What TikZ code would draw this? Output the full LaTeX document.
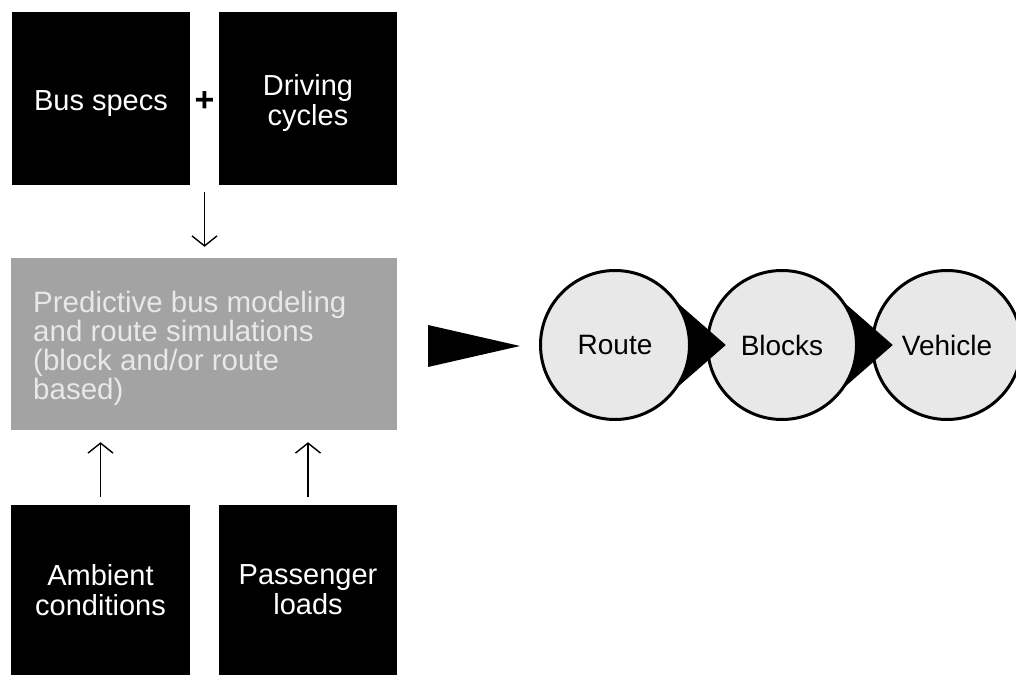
\documentclass[tikz,border=0pt]{standalone}
\usepackage{fontspec}
\setmainfont{Liberation Sans}
\usetikzlibrary{arrows.meta,calc}

\definecolor{simfill}{RGB}{163,163,163}
\definecolor{simtext}{RGB}{232,232,232}
\definecolor{discfill}{RGB}{232,232,232}

\tikzset{
  inputbox/.style={fill=black, draw=none, minimum width=178pt, inner sep=0pt},
  boxtext/.style={text=white, align=center, inner sep=0pt,
    font=\fontsize{29}{30}\selectfont},
  simbox/.style={fill=simfill, draw=none, minimum width=386pt,
    minimum height=172pt, inner sep=0pt},
  disc/.style={circle, draw=black, line width=3pt, fill=discfill,
    minimum size=149pt, inner sep=0pt, outer sep=0pt,
    font=\fontsize{28}{30}\selectfont},
  flow/.style={line width=1.4pt, -{Straight Barb[length=10pt,width=25pt,line width=1.4pt]}},
  wedge/.style={fill=black, draw=black, line width=1pt, line join=miter}
}

\begin{document}
\begin{tikzpicture}[x=1pt, y=1pt]
  \useasboundingbox (0,0) rectangle (1016,675);

  % inputs above the simulation step
  \node[inputbox, minimum height=173pt,
        label={[boxtext, yshift=-5pt]center:Bus specs}] (bus) at (101,576.5) {};
  \node[inputbox, minimum height=173pt,
        label={[boxtext, yshift=-5pt]center:Driving\\cycles}] (cycles) at (308,576.5) {};
  \node[font=\fontsize{34}{34}\selectfont\bfseries, inner sep=0pt] (plus) at (204.5,573) {+};

  % simulation step
  \node[simbox] (sim) at (204,331) {};
  \node[anchor=north west, inner sep=0pt, align=left, text=simtext,
        font=\fontsize{29.5}{29}\selectfont] (simlabel) at (33,384)
        {Predictive bus modeling\\and route simulations\\(block and/or route\\based)};

  % inputs below the simulation step
  \node[inputbox, minimum width=179pt, minimum height=170pt,
        label={[boxtext]center:Ambient\\conditions}] (ambient) at (100.5,85) {};
  \node[inputbox, minimum height=170pt,
        label={[boxtext]center:Passenger\\loads}] (loads) at (308,85) {};

  % connectors into the simulation step
  \coordinate (join) at (204.5,483);
  \draw[flow, shorten >=11pt] (join) -- (join |- sim.north);
  \draw[flow, shorten <=8pt, shorten >=12pt] (ambient.north) -- (ambient.north |- sim.south);
  \draw[flow, shorten <=8pt, shorten >=12pt] (loads.north) -- (loads.north |- sim.south);

  % big pointer towards the chain
  \fill[black] (428,350) -- (520,329) -- (428,308) -- cycle;

  % chain of levels
  \node[disc] (vehicle) at (947,330) {Vehicle};
  \node[disc] (blocks) at (782,330) {Blocks};
  \node[disc] (route) at (615,330) {Route};

  % pointed tips linking one level to the next
  \foreach \c in {route, blocks} {
    \draw[wedge] ($(\c.center)+(35:74.5)$) -- ($(\c.center)+(110,0)$)
      -- ($(\c.center)+(-35:74.5)$) arc[start angle=-35, end angle=35, radius=74.5] -- cycle;
  }
\end{tikzpicture}
\end{document}
